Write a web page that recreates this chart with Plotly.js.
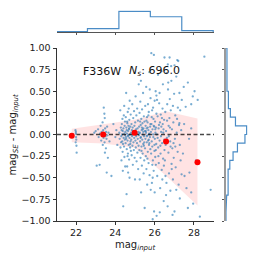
<!DOCTYPE html>
<html><head><meta charset="utf-8">
<script src="https://cdn.plot.ly/plotly-3.0.1.min.js"></script>
<style>html,body{margin:0;padding:0;background:#fff;}#chart{width:258px;height:258px;}</style>
</head><body><div id="chart"></div>
<script>
// ---- data ----
const magInput = [
 21.97,21.99,22.00,22.01,21.98,22.02,22.03,21.99,
 22.93,23.00,23.05,23.12,23.15,23.20,23.22,23.25,23.28,23.30,23.32,23.35,23.36,23.38,23.40,23.41,23.42,23.44,23.45,23.46,23.47,23.48,23.50,23.52,23.53,23.55,23.56,23.58,23.60,23.62,23.65,23.70,23.80,23.90,24.00,24.05,24.10,
 24.20,24.22,24.25,24.26,24.28,24.30,24.31,24.33,24.34,24.35,24.36,24.37,24.38,24.39,24.40,24.41,24.42,24.43,24.44,24.45,24.46,24.47,24.48,24.49,24.50,24.50,24.45,24.38,24.32,24.29,
 24.51,24.52,24.53,24.54,24.55,24.56,24.57,24.58,24.59,24.60,24.61,24.62,24.63,24.64,24.65,24.65,24.66,24.67,24.68,24.69,24.70,24.71,24.72,24.73,24.74,24.75,24.76,24.77,24.78,24.79,24.80,24.55,24.60,24.62,24.68,24.72,24.58,24.64,24.70,24.76,
 24.81,24.82,24.83,24.84,24.85,24.86,24.87,24.88,24.89,24.90,24.91,24.92,24.93,24.94,24.95,24.96,24.97,24.98,24.99,25.00,25.01,25.02,25.03,25.04,25.05,25.06,25.07,25.08,25.09,25.10,25.11,25.12,25.13,25.14,25.15,25.16,25.17,25.18,25.19,25.20,
 25.21,25.22,25.23,25.24,25.25,25.26,25.27,25.28,25.29,25.30,25.31,25.32,25.33,25.34,25.35,25.36,25.37,25.38,25.39,25.40,25.41,25.42,25.43,25.44,25.45,25.46,25.47,25.48,25.49,25.50,25.22,25.28,25.35,25.42,25.47,25.26,25.33,25.39,25.45,25.30,
 25.51,25.52,25.53,25.54,25.55,25.56,25.57,25.58,25.59,25.60,25.61,25.62,25.63,25.64,25.65,25.66,25.67,25.68,25.69,25.70,25.71,25.72,25.73,25.74,25.75,25.76,25.77,25.78,25.79,25.80,25.55,25.60,25.65,25.70,25.75,25.58,25.63,25.68,25.73,25.78,
 25.81,25.82,25.83,25.84,25.85,25.86,25.87,25.88,25.89,25.90,25.91,25.92,25.93,25.94,25.95,25.96,25.97,25.98,25.99,26.00,26.00,26.01,26.02,26.03,26.04,26.05,26.06,26.07,26.08,26.09,26.10,25.85,25.88,25.92,25.95,25.99,26.03,26.06,26.09,25.90,
 26.11,26.13,26.15,26.17,26.18,26.20,26.21,26.23,26.25,26.25,26.27,26.28,26.30,26.31,26.33,26.35,26.36,26.38,26.40,26.42,26.43,26.45,26.46,26.48,26.50,26.50,26.15,26.22,26.29,26.34,26.39,26.44,26.47,26.12,26.26,26.41,26.19,26.32,26.37,26.49,
 26.52,26.54,26.56,26.58,26.60,26.60,26.62,26.64,26.66,26.67,26.68,26.70,26.71,26.73,26.75,26.76,26.77,26.79,26.80,26.82,26.84,26.85,26.86,26.88,26.90,26.91,26.93,26.93,26.95,26.97,26.99,26.55,26.63,26.72,26.78,26.87,26.96,26.58,26.69,26.81,
 27.01,27.01,27.03,27.05,27.07,27.10,27.10,27.12,27.15,27.17,27.18,27.20,27.22,27.24,27.26,27.26,27.28,27.30,27.32,27.35,27.37,27.05,27.14,27.28,27.38,
 27.44,27.50,27.52,27.58,27.62,27.69,27.69,27.75,27.77,27.86,27.86,27.86,27.94,28.03,28.10,28.19,28.30,28.53,28.85,27.48,27.96
];
const magDiff = [
 0.05,0.01,-0.03,-0.06,-0.09,-0.13,-0.21,0.03,
 0.02,0.04,-0.36,0.06,-0.03,-0.35,0.01,0.10,-0.07,0.03,-0.01,0.14,-0.12,0.05,-0.04,0.31,0.00,0.24,-0.09,0.19,-0.21,0.07,-0.02,-0.16,0.03,-0.05,-0.44,0.09,-0.01,-0.27,0.02,-0.08,-0.48,0.12,-0.03,0.05,-0.12,
 0.02,-0.05,0.28,-0.15,0.08,-0.02,-0.30,0.12,0.00,-0.08,0.18,-0.20,0.04,-0.11,-0.83,0.07,-0.04,0.22,-0.14,0.01,-0.26,0.10,-0.06,0.15,-0.01,-0.37,0.33,-0.42,0.05,-0.09,
 0.03,-0.10,0.20,-0.03,0.48,0.08,-0.69,-0.17,0.01,-0.37,0.13,-0.07,0.26,-0.22,0.04,-0.44,-0.01,0.10,-0.12,0.06,-0.29,0.17,-0.04,0.39,0.00,-0.15,0.09,-0.08,0.23,-0.19,0.02,-0.05,0.15,-0.25,0.30,-0.50,0.05,-0.02,0.07,-0.11,
 -0.06,0.12,-0.24,0.05,-0.02,0.35,-0.13,0.08,-0.35,0.00,0.19,-0.09,0.04,-0.18,0.27,-0.04,0.10,-0.27,0.02,-0.52,0.14,-0.07,0.44,-0.15,0.06,-0.02,0.22,-0.31,0.01,-0.10,0.30,-0.21,0.07,-0.05,0.16,-0.40,0.03,-0.13,0.58,-0.01,
 0.09,-0.18,0.25,-0.52,0.02,-0.08,0.38,-0.27,0.11,-0.03,-0.67,0.18,-0.14,0.05,-0.36,0.29,-0.06,0.13,-0.22,0.00,0.48,-0.11,0.07,-0.45,0.21,-0.02,-0.30,0.15,-0.85,0.04,0.01,-0.04,0.08,0.03,-0.09,0.15,-0.19,0.06,-0.13,0.62,
 -0.16,0.33,-0.05,0.10,-0.25,0.02,0.55,-0.40,0.07,-0.09,0.20,-0.58,-0.01,0.14,-0.20,0.35,-0.07,0.05,-0.33,0.26,-0.12,0.01,0.72,-0.47,0.52,-0.03,0.09,-0.17,0.42,-0.64,0.04,-0.02,0.08,-0.06,0.00,0.16,-0.28,0.22,-0.10,0.12,
 0.03,-0.22,0.94,0.12,-0.08,-0.56,0.28,-0.14,0.06,-0.98,-0.30,0.31,-0.03,0.18,-0.42,0.92,-0.89,0.09,-0.19,0.39,-0.67,-0.05,0.15,-0.26,0.02,0.50,-0.35,0.08,-0.11,0.24,-0.94,0.20,-0.35,0.00,0.10,-0.12,0.06,-0.18,0.45,-0.50,
 0.00,-0.48,0.21,0.69,-0.15,0.07,-0.33,0.36,0.48,-0.07,0.14,-0.62,-0.22,0.23,0.03,0.73,-0.41,-0.10,0.30,0.58,-0.28,0.06,-0.77,0.17,0.89,-0.18,-0.04,0.11,-0.13,0.09,-0.52,0.02,-0.36,0.40,-0.90,0.12,-0.25,-0.02,0.19,-0.06,
 -0.30,0.26,-0.12,0.04,0.71,-0.56,-0.04,0.35,-0.83,0.81,0.52,-0.21,0.10,-0.45,0.19,0.89,0.41,-0.08,-0.65,0.28,0.79,0.62,-0.34,0.06,-0.16,-0.93,0.33,-0.52,0.14,-0.27,0.47,-0.48,0.16,-0.02,0.08,-0.40,-0.10,-0.70,0.60,-0.14,
 0.80,-0.89,-0.05,0.22,-0.38,0.67,-0.64,0.02,0.86,-0.20,0.31,0.85,-0.58,0.11,0.13,0.48,-0.74,0.28,-0.30,0.05,-0.46,-0.14,0.18,-0.12,0.40,
 -0.22,0.12,-0.48,0.32,-0.62,0.60,-0.85,-0.05,-0.44,0.35,-0.67,0.07,0.44,0.50,-0.30,0.40,-0.95,0.90,-0.64,0.55,-0.80
];
const binCenters = [21.78, 23.38, 24.98, 26.58, 28.18];
const binMean    = [-0.015, 0.0, 0.02, -0.08, -0.32];
const bandUpper  = [0.066, 0.116, 0.17, 0.27, 0.185];
const bandLower  = [-0.089, -0.104, -0.154, -0.48, -0.82];
const topHistEdges  = [20.98, 22.58, 24.18, 25.78, 27.38, 28.98];
const topHistCounts = [10, 59, 345, 256, 26];
const rightHistEdges  = [-1.0,-0.9,-0.8,-0.7,-0.6,-0.5,-0.4,-0.3,-0.2,-0.1,0.0,0.1,0.2,0.3,0.4,0.5,0.6,0.7,0.8,0.9,1.0];
const rightHistCounts = [2,2,7,17,17,17,29,52,83,136,148,69,33,19,19,9,9,9,9,9];
const xTickVals = [22, 24, 26, 28];
const xTickText = ['22', '24', '26', '28'];
const yTickVals = [-1, -0.75, -0.5, -0.25, 0, 0.25, 0.5, 0.75, 1];
const yTickText = ['\u22121.00','\u22120.75','\u22120.50','\u22120.25','0.00','0.25','0.50','0.75','1.00'];
const xRange = [21.03, 29.02];
const yRange = [-1, 1];
const refLevel = 0;
const filterName = 'F336W';
const nSources = '696.0';

// ---- build step outlines ----
function stepOutline(edges, counts){
  const e = [edges[0]], c = [0];
  for (let i = 0; i < counts.length; i++){
    e.push(edges[i], edges[i+1]); c.push(counts[i], counts[i]);
  }
  e.push(edges[edges.length-1]); c.push(0);
  return {e, c};
}
const topStep = stepOutline(topHistEdges, topHistCounts);
const rightStep = stepOutline(rightHistEdges, rightHistCounts);

const FONT = 'DejaVu Sans, sans-serif';
const histColor = '#4a8cc6';

const traces = [
  {x: binCenters, y: bandLower, type:'scatter', mode:'lines', line:{width:0, color:'rgba(0,0,0,0)'}, hoverinfo:'skip', showlegend:false, xaxis:'x', yaxis:'y'},
  {x: binCenters, y: bandUpper, type:'scatter', mode:'lines', fill:'tonexty', fillcolor:'rgba(255,0,0,0.11)', line:{width:0, color:'rgba(0,0,0,0)'}, hoverinfo:'skip', showlegend:false, xaxis:'x', yaxis:'y'},
  {x: magInput, y: magDiff, type:'scatter', mode:'markers', marker:{size:2.3, color:'rgba(31,119,180,0.6)', line:{width:0}}, showlegend:false, xaxis:'x', yaxis:'y'},
  {x: xRange, y: [refLevel, refLevel], type:'scatter', mode:'lines', line:{color:'rgba(0,0,0,0.72)', width:1.4, dash:'4px,2.5px'}, showlegend:false, xaxis:'x', yaxis:'y'},
  {x: binCenters, y: binMean, type:'scatter', mode:'markers', marker:{size:6, color:'#ff0000', line:{width:0}}, showlegend:false, xaxis:'x', yaxis:'y'},
  {x: topStep.e, y: topStep.c, type:'scatter', mode:'lines', line:{color:histColor, width:1.2}, showlegend:false, xaxis:'x2', yaxis:'y2'},
  {x: rightStep.c, y: rightStep.e, type:'scatter', mode:'lines', line:{color:histColor, width:1.2}, showlegend:false, xaxis:'x3', yaxis:'y3'}
];

const W = 258;
const tickFont = {family: FONT, size: 9.5, color: '#222'};
const layout = {
  width: W, height: W,
  margin: {l:0, r:0, t:0, b:0},
  paper_bgcolor: '#fff', plot_bgcolor: 'rgba(0,0,0,0)',
  font: {family: FONT, color: '#222'},
  showlegend: false,
  xaxis: {domain:[57/W, 214/W], range:xRange, anchor:'y', showline:true, linecolor:'#333', linewidth:1,
          ticks:'outside', ticklen:3, tickwidth:1, tickcolor:'#333', tickmode:'array', tickvals:xTickVals, ticktext:xTickText,
          tickfont:tickFont, showgrid:false, zeroline:false},
  yaxis: {domain:[1-221/W, 1-48/W], range:yRange, anchor:'x', showline:true, linecolor:'#333', linewidth:1,
          ticks:'outside', ticklen:3.5, tickwidth:1, tickcolor:'#333', tickmode:'array', tickvals:yTickVals, ticktext:yTickText,
          tickfont:tickFont, showgrid:false, zeroline:false},
  xaxis2: {domain:[57/W, 214/W], range:xRange, anchor:'y2', showline:true, linecolor:'#555', linewidth:1,
          ticks:'outside', ticklen:2, tickwidth:1, tickcolor:'#555', tickmode:'array', tickvals:xTickVals,
          showticklabels:false, showgrid:false, zeroline:false},
  yaxis2: {domain:[1-32.3/W, 1-10.3/W], range:[0, Math.max(...topHistCounts)*1.05], anchor:'x2', visible:false},
  xaxis3: {domain:[225.7/W, 247.7/W], range:[0, Math.max(...rightHistCounts)*1.05], anchor:'y3', visible:false},
  yaxis3: {domain:[1-221/W, 1-48/W], range:yRange, anchor:'x3', showline:true, linecolor:'#9a9a9a', linewidth:1.6,
          ticks:'outside', ticklen:2, tickwidth:1, tickcolor:'#555', tickmode:'array', tickvals:yTickVals,
          showticklabels:false, showgrid:false, zeroline:false},
  annotations: [
    {text: filterName, xref:'paper', yref:'paper', x:81/W, y:1-71/W, xanchor:'left', yanchor:'middle', showarrow:false, font:{family:FONT, size:11, color:'#111'}},
    {text: '<i>N<sub>s</sub></i>: ' + nSources, xref:'paper', yref:'paper', x:127/W, y:1-71/W, xanchor:'left', yanchor:'middle', showarrow:false, font:{family:FONT, size:11, color:'#111'}},
    {text: 'mag<sub><i>input</i></sub>', xref:'paper', yref:'paper', x:135/W, y:1-245/W, xanchor:'center', yanchor:'middle', showarrow:false, font:{family:FONT, size:10, color:'#222'}},
    {text: 'mag<sub><i>SE</i></sub> - mag<sub><i>input</i></sub>', xref:'paper', yref:'paper', x:13/W, y:1-134.5/W, xanchor:'center', yanchor:'middle', textangle:-90, showarrow:false, font:{family:FONT, size:10, color:'#222'}}
  ]
};

Plotly.newPlot('chart', traces, layout, {staticPlot:true, displayModeBar:false});
</script>
</body></html>
